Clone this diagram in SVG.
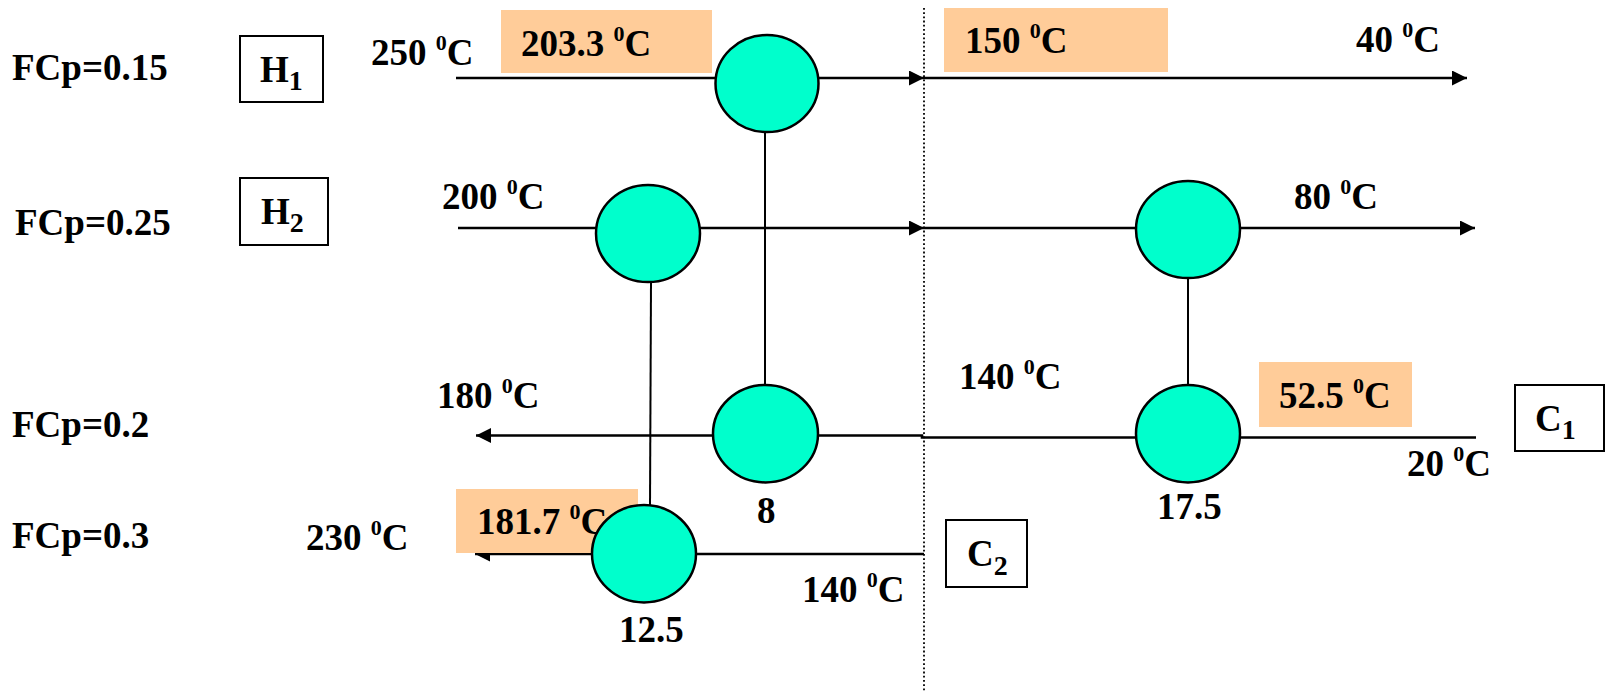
<svg xmlns="http://www.w3.org/2000/svg" width="1608" height="692" viewBox="0 0 1608 692">
<style>
text{font-family:"Liberation Serif","Times New Roman",serif;font-weight:bold;font-size:37px;fill:#000}
.sup{font-size:22px}
.sub{font-size:28px}
.stream{stroke:#000;stroke-width:2.6;fill:none}
.link{stroke:#000;stroke-width:2;fill:none}
.hx{fill:#00FFCC;stroke:#000;stroke-width:2.5}
.tag{fill:#FFCC99}
.box{fill:#fff;stroke:#000;stroke-width:2}
.pinch{stroke:#000;stroke-width:1.8;stroke-dasharray:1.8 2.4}
</style>
<defs>
<marker id="arr" markerWidth="16" markerHeight="16" refX="15" refY="7.5" orient="auto" markerUnits="userSpaceOnUse">
<path d="M0,0 L15,7.5 L0,15 Z" fill="#000"/>
</marker>
</defs>
<rect width="1608" height="692" fill="#fff"/>

<g id="pinch-line"><line class="pinch" x1="924" y1="8" x2="924" y2="692"/></g>

<g id="connectors">
<line class="stream" x1="456" y1="78" x2="924" y2="78" marker-end="url(#arr)"/>
<line class="stream" x1="924" y1="78" x2="1467" y2="78" marker-end="url(#arr)"/>
<line class="stream" x1="458" y1="228" x2="924" y2="228" marker-end="url(#arr)"/>
<line class="stream" x1="924" y1="228" x2="1475" y2="228" marker-end="url(#arr)"/>
<path class="stream" d="M1476,437.5 H922 V435.5 H476" marker-end="url(#arr)"/>
<path class="stream" d="M924,554 H475" marker-end="url(#arr)"/>
<line class="link" x1="765" y1="132" x2="765" y2="385"/>
<line class="link" x1="651" y1="282" x2="650" y2="505"/>
<line class="link" x1="1188" y1="278" x2="1188" y2="385"/>
</g>

<g id="fcp-labels">
<text x="12" y="80">FCp=0.15</text>
<text x="15" y="235">FCp=0.25</text>
<text x="12" y="437">FCp=0.2</text>
<text x="12" y="548">FCp=0.3</text>
</g>

<g id="H1"><rect class="box" x="240" y="36" width="83" height="66"/><text x="260" y="82">H<tspan class="sub" y="90">1</tspan></text></g>
<g id="H2"><rect class="box" x="240" y="178" width="88" height="67"/><text x="261" y="224">H<tspan class="sub" y="232">2</tspan></text></g>
<g id="C1"><rect class="box" x="1515" y="385" width="89" height="66"/><text x="1535" y="431">C<tspan class="sub" y="439">1</tspan></text></g>
<g id="C2"><rect class="box" x="946" y="520" width="81" height="67"/><text x="967" y="566">C<tspan class="sub" y="575">2</tspan></text></g>

<g id="temps">
<text x="371" y="65">250 <tspan class="sup" y="50">0</tspan><tspan y="65">C</tspan></text>
<text x="1356" y="52">40 <tspan class="sup" y="37">0</tspan><tspan y="52">C</tspan></text>
<text x="442" y="209">200 <tspan class="sup" y="194">0</tspan><tspan y="209">C</tspan></text>
<text x="1294" y="209">80 <tspan class="sup" y="194">0</tspan><tspan y="209">C</tspan></text>
<text x="437" y="408">180 <tspan class="sup" y="393">0</tspan><tspan y="408">C</tspan></text>
<text x="959" y="389">140 <tspan class="sup" y="374">0</tspan><tspan y="389">C</tspan></text>
<text x="1407" y="476">20 <tspan class="sup" y="461">0</tspan><tspan y="476">C</tspan></text>
<text x="306" y="550">230 <tspan class="sup" y="535">0</tspan><tspan y="550">C</tspan></text>
<text x="802" y="602">140 <tspan class="sup" y="587">0</tspan><tspan y="602">C</tspan></text>
</g>

<g id="tag-203"><rect class="tag" x="501" y="10" width="211" height="63"/><text x="521" y="56">203.3 <tspan class="sup" y="41">0</tspan><tspan y="56">C</tspan></text></g>
<g id="tag-150"><rect class="tag" x="944" y="8" width="224" height="64"/><text x="965" y="53">150 <tspan class="sup" y="38">0</tspan><tspan y="53">C</tspan></text></g>
<g id="tag-52"><rect class="tag" x="1259" y="362" width="153" height="65"/><text x="1279" y="408">52.5 <tspan class="sup" y="393">0</tspan><tspan y="408">C</tspan></text></g>
<g id="tag-181"><rect class="tag" x="456" y="489" width="182" height="64"/><text x="477" y="534">181.7 <tspan class="sup" y="519">0</tspan><tspan y="534">C</tspan></text></g>

<g id="hx1"><ellipse class="hx" cx="767" cy="83.5" rx="51.5" ry="48.5"/></g>
<g id="hx2"><ellipse class="hx" cx="648" cy="233.5" rx="52" ry="48.5"/></g>
<g id="hx3"><ellipse class="hx" cx="1188" cy="229.5" rx="52" ry="48.5"/></g>
<g id="hx4"><ellipse class="hx" cx="765.5" cy="433.7" rx="52.5" ry="48.7"/><text x="757" y="523">8</text></g>
<g id="hx5"><ellipse class="hx" cx="1188" cy="433.7" rx="52" ry="48.7"/><text x="1157" y="519">17.5</text></g>
<g id="hx6"><ellipse class="hx" cx="644" cy="553.7" rx="52" ry="48.7"/><text x="619" y="642">12.5</text></g>
</svg>
